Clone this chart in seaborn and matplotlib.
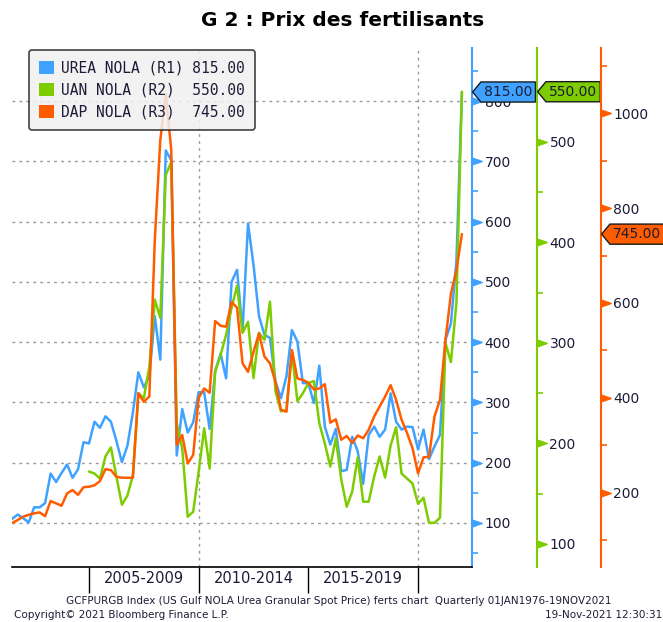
import matplotlib
matplotlib.use("Agg")
import matplotlib.pyplot as plt
import numpy as np
import seaborn as sns
from matplotlib.path import Path
from matplotlib.markers import MarkerStyle
from matplotlib.patches import Patch
from matplotlib.ticker import MultipleLocator, FixedLocator, FixedFormatter, NullFormatter

# quarterly prices, first point Q2 2001, last point Q4 2021
first_quarter = 2001.5
urea = [107, 114, 108, 101, 126, 126, 133, 182, 168, 183,
        197, 175, 189, 234, 232, 268, 258, 277, 268, 236,
        201, 228, 283, 350, 325, 344, 443, 371, 718, 702,
        212, 289, 250, 267, 317, 317, 256, 352, 381, 340,
        500, 520, 418, 597, 528, 443, 412, 407, 335, 307,
        343, 420, 401, 332, 332, 299, 361, 260, 230, 256,
        186, 188, 243, 219, 165, 246, 260, 243, 255, 315,
        268, 255, 260, 259, 222, 255, 206, 227, 246, 404,
        431, 535, 815]
# UAN only starts in Q1 2005
uan_start = 2005.0
uan = [172, 170, 165, 187, 196, 167, 139, 148, 168, 250,
       245, 276, 343, 325, 467, 480, 220, 195, 127, 132,
       172, 215, 175, 271, 288, 308, 335, 357, 310, 321,
       265, 310, 303, 341, 252, 232, 233, 291, 242, 250,
       260, 262, 220, 200, 177, 205, 164, 137, 152, 186,
       142, 142, 167, 187, 166, 198, 216, 170, 165, 160,
       140, 146, 121, 121, 126, 300, 281, 340, 550]
dap = [137, 143, 150, 154, 157, 159, 151, 183, 178, 173,
       199, 206, 196, 212, 213, 216, 225, 250, 248, 234,
       232, 232, 232, 410, 392, 403, 733, 943, 1040, 922,
       301, 322, 262, 280, 400, 420, 411, 562, 552, 550,
       602, 590, 473, 455, 497, 536, 487, 473, 434, 375,
       371, 501, 441, 438, 432, 418, 420, 429, 348, 355,
       312, 320, 305, 321, 315, 333, 361, 382, 403, 427,
       396, 354, 326, 294, 241, 275, 276, 361, 396, 522,
       620, 669, 745]

legend_names = ["UREA NOLA (R1)", "UAN NOLA (R2)", "DAP NOLA (R3)"]
periods = ["2005-2009", "2010-2014", "2015-2019"]
period_edges = [2005, 2010, 2015, 2020]
decade_lines = [2010, 2020]

blue = "#40a2ff"
green = "#7ccc00"
orange = "#ff5c00"
ink = "#1c1c38"

sns.set_style("white")
plt.rcParams["font.family"] = ["DejaVu Sans"]

t_urea = first_quarter + 0.25 * np.arange(len(urea))
t_uan = uan_start + 0.25 * np.arange(len(uan))
t_dap = first_quarter + 0.25 * np.arange(len(dap))

fig = plt.figure(figsize=(6.63, 6.22), dpi=100)
ax1 = fig.add_axes([12 / 663, 55 / 622, 460 / 663, 519 / 622])
ax2 = ax1.twinx()
ax3 = ax1.twinx()

sns.lineplot(x=t_urea, y=urea, ax=ax1, color=blue, lw=1.8)
sns.lineplot(x=t_uan, y=uan, ax=ax2, color=green, lw=1.8)
sns.lineplot(x=t_dap, y=dap, ax=ax3, color=orange, lw=1.8)

ax1.set_xlim(2001.49, 2022.46)
ax1.set_ylim(27, 888)
ax2.set_ylim(77, 593.5)
ax3.set_ylim(44, 1137)
for ax in (ax1, ax2, ax3):
    ax.set_xlabel("")
    ax.set_ylabel("")
    ax.spines["left"].set_visible(False)
    ax.spines["top"].set_visible(False)
ax2.spines["bottom"].set_visible(False)
ax3.spines["bottom"].set_visible(False)
ax1.spines["bottom"].set_color("black")
ax1.spines["bottom"].set_linewidth(1.2)
ax2.spines["right"].set_position(("outward", 65 * 0.72))
ax3.spines["right"].set_position(("outward", 129 * 0.72))
ax1.yaxis.tick_right()

# right-pointing triangle for the major ticks
tri = Path([(0, -0.35), (1, 0), (0, 0.35), (0, -0.35)],
           [Path.MOVETO, Path.LINETO, Path.LINETO, Path.CLOSEPOLY])


def style_axis(ax, color, major, minor):
    ax.yaxis.set_major_locator(MultipleLocator(major))
    ax.yaxis.set_minor_locator(MultipleLocator(minor))
    ax.tick_params(axis="y", which="major", direction="in", length=14, width=1,
                   color=color, labelcolor=ink, labelsize=10, pad=9,
                   left=False, right=True, labelleft=False, labelright=True)
    ax.tick_params(axis="y", which="minor", direction="out", length=4, width=1.2,
                   color=color, left=False, right=True)
    ax.spines["right"].set_color(color)
    ax.spines["right"].set_linewidth(1.5)
    for tick in ax.yaxis.get_major_ticks():
        tick.tick2line.set_marker(MarkerStyle(tri))


style_axis(ax1, blue, 100, 50)
style_axis(ax2, green, 100, 50)
style_axis(ax3, orange, 200, 100)

ax1.grid(axis="y", which="major", color="#9a9a9a", ls=(0, (2, 3)), lw=1)
for x in decade_lines:
    ax1.axvline(x, color="#9a9a9a", ls=(0, (2, 3)), lw=1, zorder=1)

mids = [(a + b) / 2 for a, b in zip(period_edges[:-1], period_edges[1:])]
ax1.xaxis.set_major_locator(FixedLocator(period_edges))
ax1.xaxis.set_major_formatter(NullFormatter())
ax1.xaxis.set_minor_locator(FixedLocator(mids))
ax1.xaxis.set_minor_formatter(FixedFormatter(periods))
ax1.tick_params(axis="x", which="major", bottom=True, length=19, width=1,
                color="black", direction="out")
ax1.tick_params(axis="x", which="minor", bottom=True, length=0, pad=3,
                labelsize=10.5, labelcolor=ink)

# legend with last values
last = [urea[-1], uan[-1], dap[-1]]
colors = [blue, green, orange]
labels = [f"{n.ljust(14)} {v:.2f}" for n, v in zip(legend_names, last)]
handles = [Patch(facecolor=c, edgecolor="none") for c in colors]
leg = ax3.legend(handles, labels, loc="upper left",
                 bbox_to_anchor=(29 / 663, 1 - 50 / 622), bbox_transform=fig.transFigure,
                 prop={"family": "DejaVu Sans Mono", "size": 10.5},
                 frameon=True, fancybox=True, framealpha=0.85, facecolor="#f0f0f0",
                 edgecolor="#222222", handlelength=1.0, handleheight=1.0,
                 handletextpad=0.5, labelspacing=0.5, borderpad=0.7, borderaxespad=0)
leg.get_frame().set_linewidth(1.2)
for txt in leg.get_texts():
    txt.set_color(ink)


def tag_shape(x0, y0, width, height, mutation_size):
    pad = 0.22 * mutation_size
    tip = 0.6 * mutation_size
    left, right = x0 - pad, x0 + width + pad
    bottom, top = y0 - pad, y0 + height + pad
    return Path([(left, bottom), (right, bottom), (right, top), (left, top),
                 (left - tip, (bottom + top) / 2), (left, bottom)],
                [Path.MOVETO, Path.LINETO, Path.LINETO, Path.LINETO,
                 Path.LINETO, Path.CLOSEPOLY])


for ax, value, color, off in [(ax1, urea[-1], blue, 12), (ax2, uan[-1], green, 77),
                              (ax3, dap[-1], orange, 141)]:
    ax.annotate(f"{value:.2f}", xy=(1, value), xycoords=("axes fraction", "data"),
                xytext=(off * 0.72, 0), textcoords="offset points", ha="left", va="center",
                fontsize=10, color=ink, zorder=20, annotation_clip=False,
                bbox=dict(boxstyle=tag_shape, fc=color, ec="#1a1a1a", lw=1))

fig.text(343 / 663, 1 - 20 / 622, "G 2 : Prix des fertilisants", ha="center", va="center",
         fontsize=14.5, fontweight="bold", color="black")
fig.text(339 / 663, 1 - 601 / 622,
         "GCFPURGB Index (US Gulf NOLA Urea Granular Spot Price) ferts chart  Quarterly 01JAN1976-19NOV2021",
         ha="center", va="center", fontsize=7.5, color=ink)
fig.text(14 / 663, 1 - 615 / 622, "Copyright\u00a9 2021 Bloomberg Finance L.P.",
         ha="left", va="center", fontsize=7.5, color=ink)
fig.text(662 / 663, 1 - 615 / 622, "19-Nov-2021 12:30:31",
         ha="right", va="center", fontsize=7.5, color=ink)

fig.savefig("out.png", dpi=100)
